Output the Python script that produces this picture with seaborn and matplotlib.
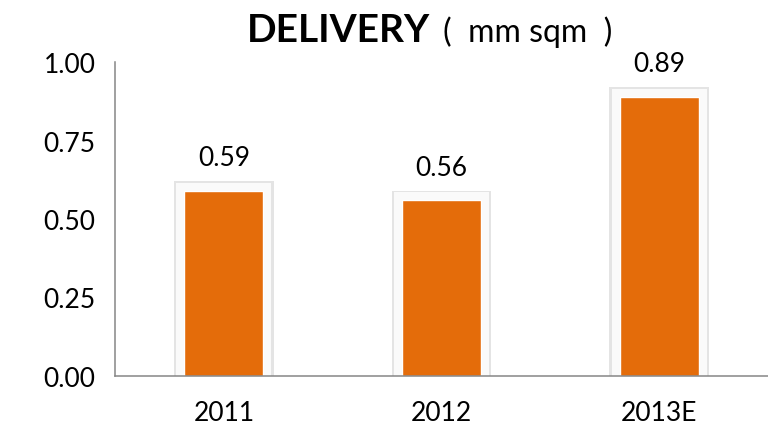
import matplotlib
matplotlib.use("Agg")
import matplotlib.pyplot as plt
import matplotlib.patches as mpatches
import seaborn as sns
import pandas as pd

years = ["2011", "2012", "2013E"]
delivery = [0.59, 0.56, 0.89]
labels = ["0.59", "0.56", "0.89"]
yticks = [0.0, 0.25, 0.50, 0.75, 1.00]

ORANGE = "#E46C0A"
AXIS_GREY = "#868686"

sns.set_theme(style="white")
plt.rcParams["font.family"] = ["Lato", "DejaVu Sans"]
plt.rcParams["text.color"] = "black"

df = pd.DataFrame({"year": years, "delivery": delivery})

fig = plt.figure(figsize=(7.68, 4.31), dpi=100)
ax = fig.add_axes([115 / 768, 54 / 431, 653 / 768, 314 / 431])

sns.barplot(data=df, x="year", y="delivery", color=ORANGE, saturation=1,
            width=0.362, ax=ax, zorder=3)

# white frame + soft shadow around each bar
pad_x = 8 / 218
pad_y = 8 / 314
for p in list(ax.patches):
    x0, w, h = p.get_x(), p.get_width(), p.get_height()
    shadow = mpatches.Rectangle((x0 - pad_x - 0.012, 0), w + 2 * pad_x + 0.024,
                                h + pad_y + 0.004,
                                facecolor="#e4e4e4", edgecolor="none", zorder=1)
    frame = mpatches.Rectangle((x0 - pad_x, 0), w + 2 * pad_x, h + pad_y,
                               facecolor="#fafafa", edgecolor="none", zorder=2)
    ax.add_patch(shadow)
    ax.add_patch(frame)

for i, (v, lab) in enumerate(zip(delivery, labels)):
    ax.text(i, v + 0.065, lab, ha="center", va="bottom", fontsize=19, color="black")

ax.set_xlim(-0.5, 2.5)
ax.set_ylim(0, 1.0)
ax.set_yticks(yticks)
ax.set_yticklabels([f"{t:.2f}" for t in yticks], fontsize=19)
ax.set_xticks(range(len(years)))
ax.set_xticklabels(years, fontsize=19)
ax.set_xlabel("")
ax.set_ylabel("")

# category boundary ticks on x axis
ax.set_xticks([-0.5, 0.5, 1.5, 2.5], minor=True)
ax.tick_params(axis="x", which="major", length=0, pad=17, labelcolor="black")
ax.tick_params(axis="x", which="minor", length=10, width=1.1, color=AXIS_GREY, direction="out")
ax.tick_params(axis="y", length=8, width=1.1, color=AXIS_GREY, direction="out", pad=6,
               labelcolor="black")

for side in ["top", "right"]:
    ax.spines[side].set_visible(False)
for side in ["left", "bottom"]:
    ax.spines[side].set_color(AXIS_GREY)
    ax.spines[side].set_linewidth(1.1)
    ax.spines[side].set_zorder(4)

fig.text(247 / 768, (431 - 42) / 431, "DELIVERY", fontsize=28, fontweight="bold",
         ha="left", va="baseline", color="black")
fig.text(443 / 768, (431 - 42) / 431, "(  mm sqm  )", fontsize=23,
         ha="left", va="baseline", color="black")

fig.savefig("out.png", dpi=100)
